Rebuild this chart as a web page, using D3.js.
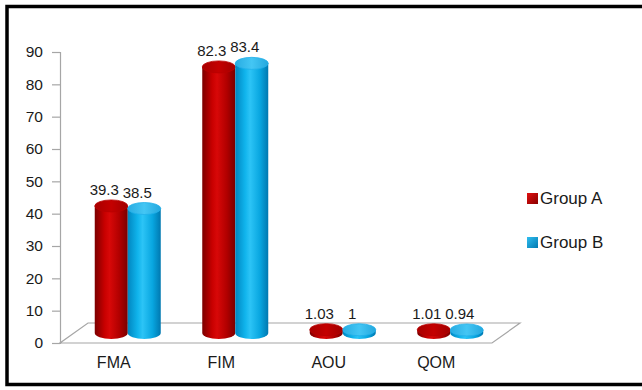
<!DOCTYPE html>
<html>
<head>
<meta charset="utf-8">
<script src="https://cdn.jsdelivr.net/npm/d3@7/dist/d3.min.js"></script>
<style>
  html, body { margin: 0; padding: 0; background: #fff; }
  svg { display: block; font-family: "Liberation Sans", Arial, sans-serif; }
</style>
</head>
<body>
<svg id="chart" width="642" height="390"></svg>
<script>
// Chart data
const categories = ["FMA", "FIM", "AOU", "QOM"];
const seriesNames = ["Group A", "Group B"];
const groupA = [39.3, 82.3, 1.03, 1.01];
const groupB = [38.5, 83.4, 1, 0.94];
const groupALabels = ["39.3", "82.3", "1.03", "1.01"];
const groupBLabels = ["38.5", "83.4", "1", "0.94"];
const yTicks = [0, 10, 20, 30, 40, 50, 60, 70, 80, 90];

const svg = d3.select("#chart");
const W = 642, H = 390;

// Outer frame
svg.append("rect")
  .attr("x", 7).attr("y", 6.5)
  .attr("width", W + 10).attr("height", 378)
  .attr("fill", "#fff").attr("stroke", "#000").attr("stroke-width", 3.5);

// Plot geometry (front plane) and 3D depth offset
const x0 = 60, x1 = 490;
const depthX = 28, depthY = -20;

const y = d3.scaleLinear().domain([0, 90]).range([343, 52]);
const x = d3.scaleBand().domain(categories).range([x0, x1]);
const barW = 33;

// Gradients for the cylinders
const defs = svg.append("defs");
function bodyGrad(id, stops) {
  const g = defs.append("linearGradient").attr("id", id)
    .attr("x1", "0%").attr("x2", "100%").attr("y1", "0%").attr("y2", "0%");
  stops.forEach(([o, c]) => g.append("stop").attr("offset", o).attr("stop-color", c));
}
bodyGrad("redBody", [["0%", "#7c0000"], ["30%", "#c80000"], ["45%", "#d80808"], ["75%", "#b00000"], ["100%", "#7a0000"]]);
bodyGrad("blueBody", [["0%", "#0086c0"], ["30%", "#10b4ec"], ["45%", "#2cc4f6"], ["75%", "#08a6e0"], ["100%", "#0078b0"]]);
bodyGrad("redTop", [["0%", "#a80000"], ["50%", "#c40000"], ["100%", "#a00000"]]);
bodyGrad("blueTop", [["0%", "#28ace2"], ["50%", "#44c6f4"], ["100%", "#24a8de"]]);

// Floor (3D base plane)
const floor = [
  [x0, y(0)], [x1 + 2, y(0)],
  [x1 + 2 + depthX, y(0) + depthY], [x0 + depthX, y(0) + depthY]
];
svg.append("path")
  .attr("d", d3.line()(floor) + "Z")
  .attr("fill", "#fff").attr("stroke", "#a6a6a6").attr("stroke-width", 1.2);

// Y axis
const yAxis = d3.axisLeft(y).tickValues(yTicks).tickSize(8).tickPadding(9);
const gy = svg.append("g").attr("transform", `translate(${x0},0)`).call(yAxis);
gy.select(".domain").attr("stroke", "#a6a6a6").attr("stroke-width", 1.2);
gy.selectAll(".tick line").attr("stroke", "#a6a6a6").attr("stroke-width", 1.2);
gy.selectAll(".tick text").attr("font-size", 15.5).attr("fill", "#1a1a1a")
  .attr("font-family", "'Liberation Sans', Arial, sans-serif");

// Category labels along the front edge
svg.append("g").selectAll("text").data(categories).join("text")
  .attr("x", d => x(d) + x.bandwidth() / 2)
  .attr("y", 368)
  .attr("text-anchor", "middle")
  .attr("font-size", 16).attr("fill", "#1a1a1a")
  .text(d => d);

// Cylinders sit at mid depth of the floor
const midX = depthX / 2, midY = depthY / 2;
const ry = 6;

const bars = [];
categories.forEach((c, i) => {
  const cx = x(c) + x.bandwidth() / 2 + midX;
  bars.push({ cat: c, v: groupA[i], label: groupALabels[i], cx: cx - barW / 2, s: 0 });
  bars.push({ cat: c, v: groupB[i], label: groupBLabels[i], cx: cx + barW / 2, s: 1 });
});

const bodyFill = ["url(#redBody)", "url(#blueBody)"];
const topFill = ["url(#redTop)", "url(#blueTop)"];
const rimColor = ["#b80000", "#22b0ea"];

const gBars = svg.append("g");
bars.forEach(b => {
  const base = y(0) + midY;
  const top = y(b.v) + midY;
  const rx = barW / 2;
  const g = gBars.append("g");
  // body: side walls plus lower half-ellipse
  g.append("path")
    .attr("d", `M${b.cx - rx},${top} L${b.cx - rx},${base} A${rx},${ry} 0 0 0 ${b.cx + rx},${base} L${b.cx + rx},${top} Z`)
    .attr("fill", bodyFill[b.s]);
  // top cap
  g.append("ellipse")
    .attr("cx", b.cx).attr("cy", top)
    .attr("rx", rx).attr("ry", ry)
    .attr("fill", topFill[b.s])
    .attr("stroke", rimColor[b.s]).attr("stroke-width", 0.8);
});

// Value labels
svg.append("g").selectAll("text").data(bars).join("text")
  .attr("x", d => d.cx - 7)
  .attr("y", d => y(d.v) + midY - 11)
  .attr("text-anchor", "middle")
  .attr("font-size", 15).attr("fill", "#1a1a1a")
  .text(d => d.label);

// Legend
const legend = svg.append("g");
const legendColors = [["#e01010", "#8a0000"], ["#30bef0", "#0078b0"]];
seriesNames.forEach((name, i) => {
  const ly = 204 + i * 44;
  const gr = defs.append("linearGradient").attr("id", "lg" + i)
    .attr("x1", "0%").attr("y1", "0%").attr("x2", "100%").attr("y2", "100%");
  gr.append("stop").attr("offset", "0%").attr("stop-color", legendColors[i][0]);
  gr.append("stop").attr("offset", "100%").attr("stop-color", legendColors[i][1]);
  legend.append("rect")
    .attr("x", 527).attr("y", ly - 11).attr("width", 11).attr("height", 11)
    .attr("fill", `url(#lg${i})`);
  legend.append("text")
    .attr("x", 540).attr("y", ly)
    .attr("font-size", 17).attr("fill", "#1a1a1a")
    .text(name);
});
</script>
</body>
</html>
